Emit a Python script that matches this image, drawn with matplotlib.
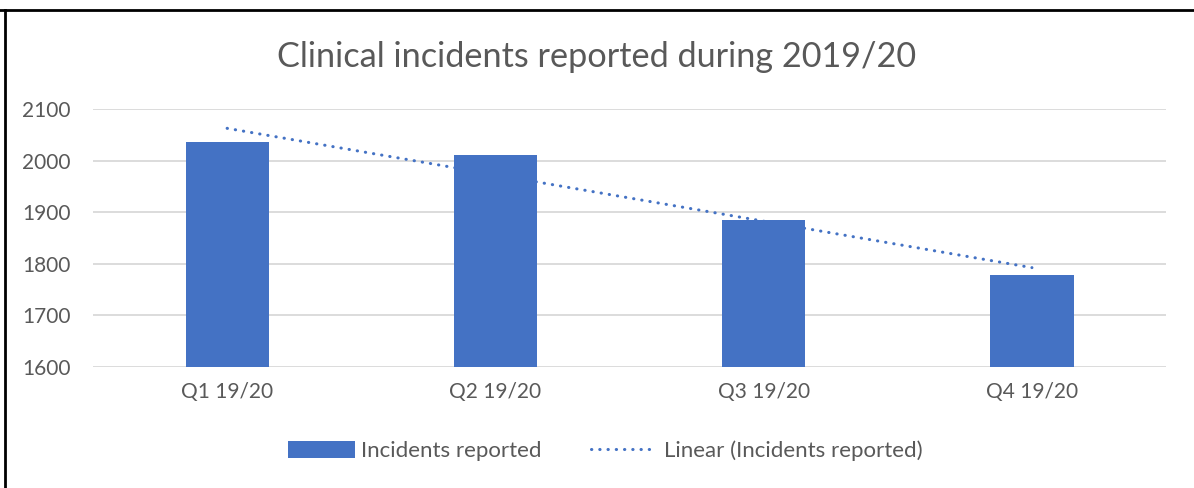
import numpy as np
import matplotlib
matplotlib.use("Agg")
import matplotlib.pyplot as plt
from matplotlib.lines import Line2D
from matplotlib.patches import Patch

plt.rcParams['font.family'] = ['Lato', 'DejaVu Sans']

quarters = ["Q1 19/20", "Q2 19/20", "Q3 19/20", "Q4 19/20"]
incidents = [2036, 2011, 1885, 1778]

bar_color = "#4472C4"
text_color = "#595959"

fig = plt.figure(figsize=(11.94, 4.88), dpi=100)
ax = fig.add_axes([0.0779, 0.248, 0.8987, 0.5287])

x = np.arange(len(quarters))
ax.bar(x, incidents, width=0.31, color=bar_color, zorder=3)

# linear trendline fitted on the data
slope, intercept = np.polyfit(x + 1, incidents, 1)
trend = slope * (x + 1) + intercept
ax.plot(x, trend, color=bar_color, linewidth=2.2, linestyle=(0, (0.1, 2.6)),
        dash_capstyle="round", zorder=4)

ax.set_xlim(-0.5, len(quarters) - 0.5)
ax.set_ylim(1600, 2100)
ax.set_yticks(range(1600, 2101, 100))
ax.set_xticks(x)
ax.set_xticklabels(quarters)
ax.tick_params(axis="both", length=0, labelsize=15, colors=text_color)
ax.tick_params(axis="x", pad=11)
ax.tick_params(axis="y", pad=16)
ax.grid(axis="y", color="#D9D9D9", linewidth=1.3, zorder=0)
for s in ax.spines.values():
    s.set_visible(False)

fig.text(0.5, 0.884, "Clinical incidents reported during 2019/20", ha="center",
         va="center", fontsize=24.7, color=text_color)

handles = [Patch(facecolor=bar_color, edgecolor="none"),
           Line2D([0], [0], color=bar_color, linewidth=2.2, linestyle=(0, (0.1, 2.6)),
                  dash_capstyle="round")]
leg = fig.legend(handles, ["Incidents reported", "Linear (Incidents reported)"],
                 loc="center", bbox_to_anchor=(0.507, 0.076), ncol=2, frameon=False,
                 fontsize=16, handlelength=3.0, handleheight=0.75,
                 columnspacing=2.2, handletextpad=0.3)
for t in leg.get_texts():
    t.set_color(text_color)

# frame lines of the pasted picture
fig.add_artist(Line2D([0, 1], [0.979, 0.979], color="black", linewidth=2,
                      transform=fig.transFigure))
fig.add_artist(Line2D([0.004, 0.004], [0, 0.979], color="black", linewidth=2,
                      transform=fig.transFigure))

fig.savefig("out.png", dpi=100)
